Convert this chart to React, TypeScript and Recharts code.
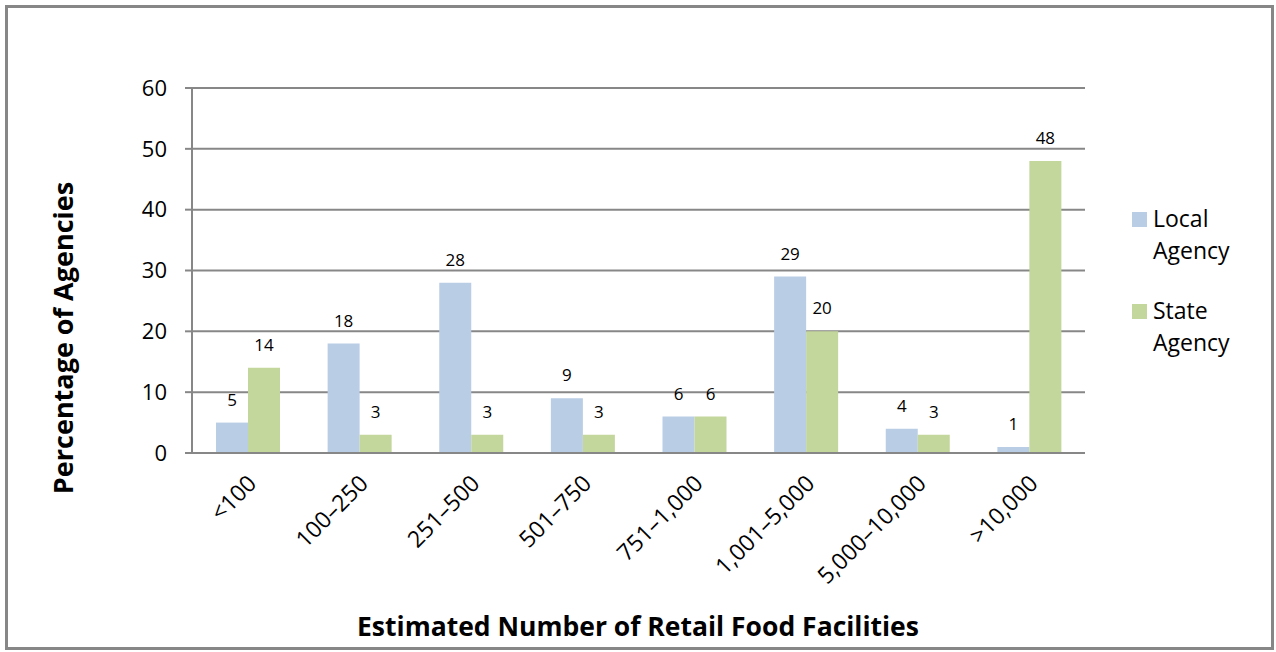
import * as React from "react"
import { BarChart, Bar, XAxis, YAxis, CartesianGrid, LabelList } from "recharts"

const categories = ["<100", "100–250", "251–500", "501–750", "751–1,000", "1,001–5,000", "5,000–10,000", ">10,000"]
const localAgency = [5, 18, 28, 9, 6, 29, 4, 1]
const stateAgency = [14, 3, 3, 3, 6, 20, 3, 48]
const yTicks = [0, 10, 20, 30, 40, 50, 60]

const data = categories.map((name, i) => ({
  name,
  local: localAgency[i],
  state: stateAgency[i],
}))

const FONT = "'Open Sans', sans-serif"
const BLUE = "#B9CDE5"
const GREEN = "#C3D69B"
const GRID = "#878787"

function XTick(props: any) {
  const { x, y, payload } = props
  const ax = x + 10
  const ay = y + 24
  return (
    <text
      x={ax}
      y={ay}
      textAnchor="end"
      transform={`rotate(-45, ${ax}, ${ay})`}
      fontSize={23}
      fontFamily={FONT}
      fill="#000"
    >
      {payload.value}
    </text>
  )
}

function LegendItem({ color, lines, top }: { color: string; lines: string[]; top: number }) {
  return (
    <div style={{ position: "absolute", left: 1132, top }}>
      <div style={{ position: "absolute", left: 0, top: 10, width: 15, height: 15, background: color }} />
      {lines.map((l, i) => (
        <div
          key={i}
          style={{ position: "absolute", left: 21, top: i * 32, fontSize: 23, fontFamily: FONT, lineHeight: "32px", whiteSpace: "nowrap" }}
        >
          {l}
        </div>
      ))}
    </div>
  )
}

export default function App() {
  return (
    <div style={{ position: "absolute", left: 0, top: 0, width: 1276, height: 652, background: "#fff" }}>
      <div
        style={{
          position: "absolute",
          left: 5,
          top: 5,
          width: 1269,
          height: 645,
          border: `3px solid ${GRID}`,
          boxSizing: "border-box",
        }}
      />
      <BarChart
        width={1276}
        height={652}
        data={data}
        margin={{ top: 88, right: 191, bottom: 99, left: 92 }}
        barGap={0}
        barSize={32}
      >
        <CartesianGrid vertical={false} stroke={GRID} strokeWidth={2} />
        <XAxis
          dataKey="name"
          tick={<XTick />}
          tickLine={false}
          axisLine={{ stroke: GRID, strokeWidth: 2 }}
          interval={0}
          height={100}
        />
        <YAxis
          domain={[0, 60]}
          ticks={yTicks}
          width={100}
          tickSize={7}
          tickMargin={18}
          tickLine={{ stroke: GRID, strokeWidth: 2 }}
          axisLine={{ stroke: GRID, strokeWidth: 2 }}
          tick={{ fontSize: 22, fontFamily: FONT, fill: "#000" }}
        />
        <Bar dataKey="local" fill={BLUE} isAnimationActive={false}>
          <LabelList dataKey="local" position="top" offset={17} fontSize={17} fontFamily={FONT} fill="#000" />
        </Bar>
        <Bar dataKey="state" fill={GREEN} isAnimationActive={false}>
          <LabelList dataKey="state" position="top" offset={17} fontSize={17} fontFamily={FONT} fill="#000" />
        </Bar>
        <text
          x={62}
          y={338}
          transform="rotate(-90, 62, 338)"
          textAnchor="middle"
          dominantBaseline="central"
          fontSize={27}
          fontWeight="bold"
          fontFamily={FONT}
          fill="#000"
        >
          Percentage of Agencies
        </text>
        <text
          x={638}
          y={626}
          textAnchor="middle"
          dominantBaseline="central"
          fontSize={26.5}
          fontWeight="bold"
          fontFamily={FONT}
          fill="#000"
        >
          Estimated Number of Retail Food Facilities
        </text>
      </BarChart>
      <LegendItem color={BLUE} lines={["Local", "Agency"]} top={202} />
      <LegendItem color={GREEN} lines={["State", "Agency"]} top={294} />
    </div>
  )
}
